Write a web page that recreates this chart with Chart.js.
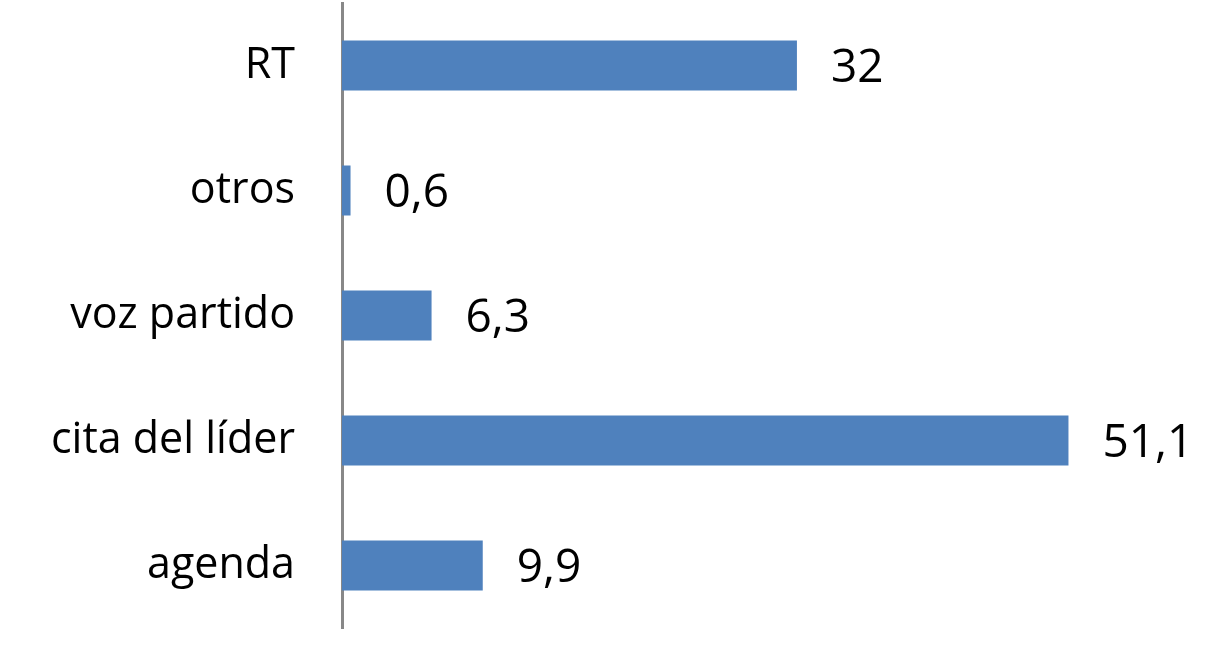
<!DOCTYPE html>
<html>
<head>
<meta charset="utf-8">
<script src="https://cdn.jsdelivr.net/npm/chart.js@4/dist/chart.umd.min.js"></script>
<style>
  html, body { margin: 0; padding: 0; background: #fff; }
  #wrap { width: 1222px; height: 662px; }
</style>
</head>
<body>
<div id="wrap"><canvas id="grafica"></canvas></div>
<script>
/* datos */
const categorias = ['RT', 'otros', 'voz partido', 'cita del líder', 'agenda'];
const valores = [32, 0.6, 6.3, 51.1, 9.9];
const etiquetas = ['32', '0,6', '6,3', '51,1', '9,9'];

const fuente = '"Open Sans", "DejaVu Sans", sans-serif';

// etiquetas de valor al final de cada barra
const etiquetasBarras = {
  id: 'etiquetasBarras',
  afterDatasetsDraw(chart) {
    const c = chart.ctx;
    const meta = chart.getDatasetMeta(0);
    c.save();
    c.font = '46px ' + fuente;
    c.fillStyle = '#000';
    c.textAlign = 'left';
    c.textBaseline = 'middle';
    meta.data.forEach((bar, i) => {
      c.fillText(etiquetas[i], bar.x + 34, bar.y + 3);
    });
    c.restore();
  }
};

new Chart(document.getElementById('grafica'), {
  type: 'bar',
  data: {
    labels: categorias,
    datasets: [{
      data: valores,
      backgroundColor: '#4F81BD',
      borderWidth: 0,
      categoryPercentage: 1,
      barPercentage: 0.4
    }]
  },
  options: {
    indexAxis: 'y',
    responsive: true,
    maintainAspectRatio: false,
    animation: false,
    layout: { padding: { left: 0, right: 27, top: 3, bottom: 34 } },
    plugins: {
      legend: { display: false },
      tooltip: { enabled: false }
    },
    scales: {
      x: {
        display: false,
        min: 0,
        max: 60
      },
      y: {
        afterFit(scale) {
          scale.width = 342;
          scale.paddingTop = 0;
          scale.paddingBottom = 0;
        },
        grid: { display: false, drawTicks: false },
        border: { display: true, color: '#888888', width: 3 },
        ticks: {
          color: '#000',
          padding: 47,
          font: { family: fuente, size: 43 }
        }
      }
    }
  },
  plugins: [etiquetasBarras]
});
</script>
</body>
</html>
